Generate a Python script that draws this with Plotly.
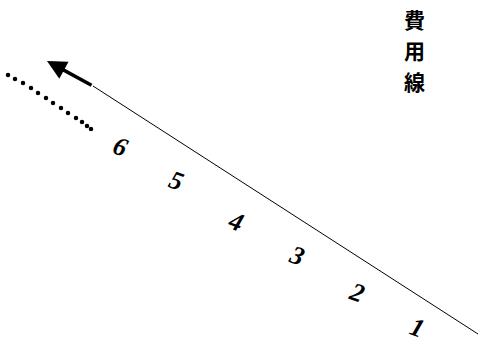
import plotly.graph_objects as go

# cost line (費用線), in picture pixel coordinates
cost_line_x = [93, 478]
cost_line_y = [86, 334]

# thick arrow leaving the upper end of the line
arrow_tail = (93, 86)
arrow_head = (47, 61)

# dotted continuation
dots_x = [8, 15, 23, 31, 38, 46, 53, 61, 68, 76, 82, 87, 91]
dots_y = [75, 79, 83, 88, 93, 98, 103, 108, 113, 118, 122, 126, 129]

# numbered points below the line
point_labels = ["6", "5", "4", "3", "2", "1"]
label_x = [120, 176, 236, 297, 357, 417]
label_y = [146, 180, 221, 255, 292, 327]

title_chars = ["費", "用", "線"]
title_y = [19, 50, 81]

fig = go.Figure()

fig.add_trace(go.Scatter(x=cost_line_x, y=cost_line_y, mode='lines',
                         line=dict(color='black', width=1), hoverinfo='skip',
                         cliponaxis=False))
fig.add_trace(go.Scatter(x=dots_x, y=dots_y, mode='markers',
                         marker=dict(color='black', size=4.5), hoverinfo='skip',
                         cliponaxis=False))

fig.add_annotation(x=arrow_head[0], y=arrow_head[1], ax=arrow_tail[0], ay=arrow_tail[1],
                   xref='x', yref='y', axref='x', ayref='y', text='',
                   showarrow=True, arrowhead=2, arrowsize=1.1, arrowwidth=3.5,
                   arrowcolor='black')

for lab, lx, ly in zip(point_labels, label_x, label_y):
    fig.add_annotation(x=lx, y=ly, text=f"<b><i>{lab}</i></b>", showarrow=False,
                       textangle=20,
                       font=dict(family='Liberation Serif', size=26, color='black'))

for ch, ty in zip(title_chars, title_y):
    fig.add_annotation(x=414, y=ty, text=f"<b>{ch}</b>", showarrow=False,
                       font=dict(family='Noto Sans CJK JP', size=21, color='black'))

fig.update_layout(
    width=478, height=345,
    margin=dict(l=0, r=0, t=0, b=0),
    plot_bgcolor='white', paper_bgcolor='white',
    showlegend=False,
    xaxis=dict(range=[0, 478], visible=False, fixedrange=True),
    yaxis=dict(range=[345, 0], visible=False, fixedrange=True),
)

# drop the default page margin so the figure sits at the window's corner
fig.write_html("out.html", config={'displayModeBar': False},
               post_script="document.body.style.margin='0';"
                           "document.body.style.overflow='hidden';")
